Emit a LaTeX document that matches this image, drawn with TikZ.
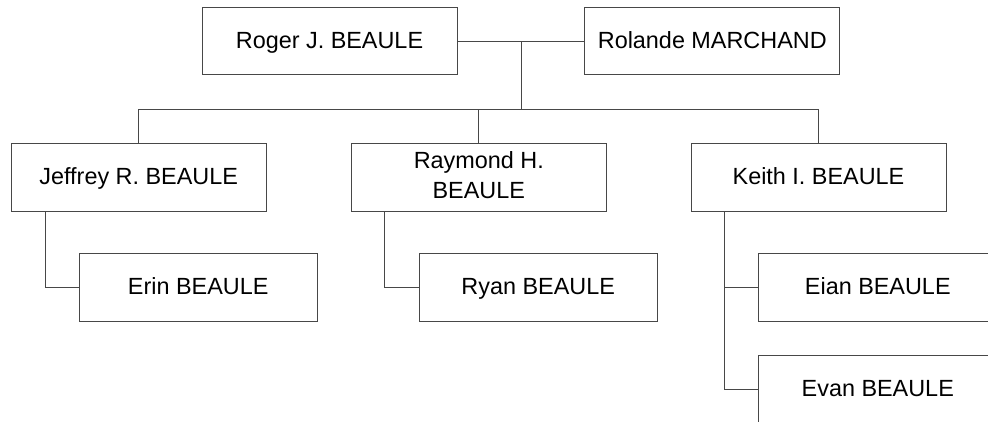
\documentclass[tikz,border=0pt]{standalone}
\usepackage{fontspec}
\setmainfont{Liberation Sans}
\begin{document}
\begin{tikzpicture}[x=1pt,y=-1pt,
  person/.style={draw=black!72,line width=1pt,fill=white,inner sep=0pt,align=center,
    text height=20pt,text depth=6pt,
    minimum width=255pt,minimum height=67.6pt,font=\fontsize{23.4}{30}\selectfont},
  twoline/.style={person,text height=47.6pt},
  child/.style={person,minimum width=237.7pt},
  link/.style={draw=black!72,line width=1pt}]
\clip (0,0) rectangle (988,422);
\fill[white] (0,0) rectangle (988,422);
\node[person] (roger) at (329.5,41.2) {Roger J. BEAULE};
\node[person] (rolande) at (712.3,41.2) {Rolande MARCHAND};
\node[person] (jeffrey) at (138.7,177.5) {Jeffrey R. BEAULE};
\node[twoline] (raymond) at (478.8,177.5) {Raymond H.\\BEAULE};
\node[person] (keith) at (818.5,177.5) {Keith I. BEAULE};
\node[child] (erin) at (198.2,287.7) {Erin BEAULE};
\node[child] (ryan) at (538.2,287.7) {Ryan BEAULE};
\node[child] (eian) at (877.8,287.7) {Eian BEAULE};
\node[child] (evan) at (877.8,389.5) {Evan BEAULE};
\coordinate (m) at (521.7,41.2);
\coordinate (bus) at (521.7,109.3);
\draw[link] (roger.east) -- (rolande.west);
\draw[link] (m) -- (bus);
\draw[link] (jeffrey.north) |- (bus) -| (keith.north);
\draw[link] (raymond.north) -- (raymond.north |- bus);
\draw[link] ([xshift=34.4pt]jeffrey.south west) |- (erin.west);
\draw[link] ([xshift=34pt]raymond.south west) |- (ryan.west);
\draw[link] ([xshift=34.4pt]keith.south west) |- (evan.west);
\draw[link] ([xshift=34.4pt]keith.south west |- eian.west) -- (eian.west);
\end{tikzpicture}
\end{document}
